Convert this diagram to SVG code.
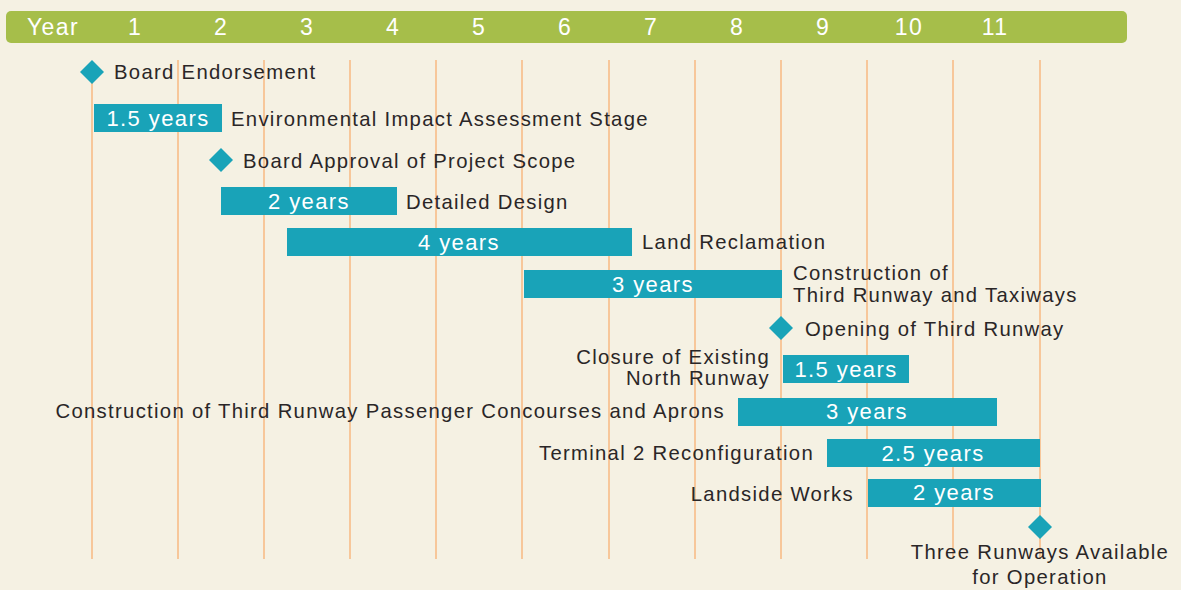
<svg xmlns="http://www.w3.org/2000/svg" width="1181" height="590" viewBox="0 0 1181 590">
<style>
.grid{stroke:#f7c79a;stroke-width:2}
.bar{fill:#19a3b8}
.dia{fill:#19a3b8}
.lbl{font-family:"Liberation Sans",Arial,sans-serif;font-size:20.3px;letter-spacing:1.3px;fill:#2a2627}
.bt{font-family:"Liberation Sans",Arial,sans-serif;font-size:22px;letter-spacing:1.4px;fill:#ffffff;text-anchor:middle}
.hd{font-family:"Liberation Sans",Arial,sans-serif;font-size:23px;letter-spacing:1.4px;fill:#ffffff;text-anchor:middle}
.end{text-anchor:end}
.mid{text-anchor:middle}
</style>
<rect width="1181" height="590" fill="#f5f1e3"/>
<g id="header">
<rect x="6" y="11" width="1121" height="32" rx="5" fill="#a6be4a"/>
<text class="hd" x="53" y="35">Year</text>
<text class="hd" x="135" y="35">1</text>
<text class="hd" x="221" y="35">2</text>
<text class="hd" x="307" y="35">3</text>
<text class="hd" x="393" y="35">4</text>
<text class="hd" x="479" y="35">5</text>
<text class="hd" x="565" y="35">6</text>
<text class="hd" x="651" y="35">7</text>
<text class="hd" x="737" y="35">8</text>
<text class="hd" x="823" y="35">9</text>
<text class="hd" x="909" y="35">10</text>
<text class="hd" x="995" y="35">11</text>
</g>
<g id="connectors">
<line class="grid" x1="92" y1="80" x2="92" y2="559"/>
<line class="grid" x1="178" y1="60" x2="178" y2="559"/>
<line class="grid" x1="264" y1="60" x2="264" y2="559"/>
<line class="grid" x1="350" y1="60" x2="350" y2="559"/>
<line class="grid" x1="436" y1="60" x2="436" y2="559"/>
<line class="grid" x1="522" y1="60" x2="522" y2="559"/>
<line class="grid" x1="609" y1="60" x2="609" y2="559"/>
<line class="grid" x1="695" y1="60" x2="695" y2="559"/>
<line class="grid" x1="781" y1="60" x2="781" y2="559"/>
<line class="grid" x1="867" y1="60" x2="867" y2="559"/>
<line class="grid" x1="953" y1="60" x2="953" y2="559"/>
<line class="grid" x1="1040" y1="60" x2="1040" y2="559"/>
</g>
<g id="board-endorsement">
<polygon class="dia" points="92,60 104,72 92,84 80,72"/>
<text class="lbl" x="114" y="79">Board Endorsement</text>
</g>
<g id="eia">
<rect class="bar" x="94" y="104" width="128" height="28"/>
<text class="bt" x="158" y="126">1.5 years</text>
<text class="lbl" x="231" y="126">Environmental Impact Assessment Stage</text>
</g>
<g id="board-approval">
<polygon class="dia" points="221,148 233,160 221,172 209,160"/>
<text class="lbl" x="243" y="168">Board Approval of Project Scope</text>
</g>
<g id="detailed-design">
<rect class="bar" x="221" y="187" width="176" height="28"/>
<text class="bt" x="309" y="209">2 years</text>
<text class="lbl" x="406" y="209">Detailed Design</text>
</g>
<g id="land-reclamation">
<rect class="bar" x="287" y="228" width="345" height="28"/>
<text class="bt" x="459" y="250">4 years</text>
<text class="lbl" x="642" y="249">Land Reclamation</text>
</g>
<g id="construction-runway">
<rect class="bar" x="524" y="270" width="258" height="28"/>
<text class="bt" x="653" y="292">3 years</text>
<text class="lbl" x="793" y="280">Construction of</text>
<text class="lbl" x="793" y="302">Third Runway and Taxiways</text>
</g>
<g id="opening">
<polygon class="dia" points="781,316 793,328 781,340 769,328"/>
<text class="lbl" x="805" y="336">Opening of Third Runway</text>
</g>
<g id="closure">
<rect class="bar" x="783" y="355" width="126" height="28"/>
<text class="bt" x="846" y="377">1.5 years</text>
<text class="lbl end" x="770" y="364">Closure of Existing</text>
<text class="lbl end" x="770" y="385">North Runway</text>
</g>
<g id="concourses">
<rect class="bar" x="738" y="398" width="259" height="28"/>
<text class="bt" x="867" y="419">3 years</text>
<text class="lbl end" x="725" y="418">Construction of Third Runway Passenger Concourses and Aprons</text>
</g>
<g id="terminal2">
<rect class="bar" x="827" y="439" width="213" height="28"/>
<text class="bt" x="933" y="461">2.5 years</text>
<text class="lbl end" x="814" y="460">Terminal 2 Reconfiguration</text>
</g>
<g id="landside">
<rect class="bar" x="868" y="479" width="173" height="28"/>
<text class="bt" x="954" y="500">2 years</text>
<text class="lbl end" x="854" y="501">Landside Works</text>
</g>
<g id="three-runways">
<polygon class="dia" points="1040,515 1052,527 1040,539 1028,527"/>
<text class="lbl mid" x="1040" y="559">Three Runways Available</text>
<text class="lbl mid" x="1040" y="584">for Operation</text>
</g>
</svg>
